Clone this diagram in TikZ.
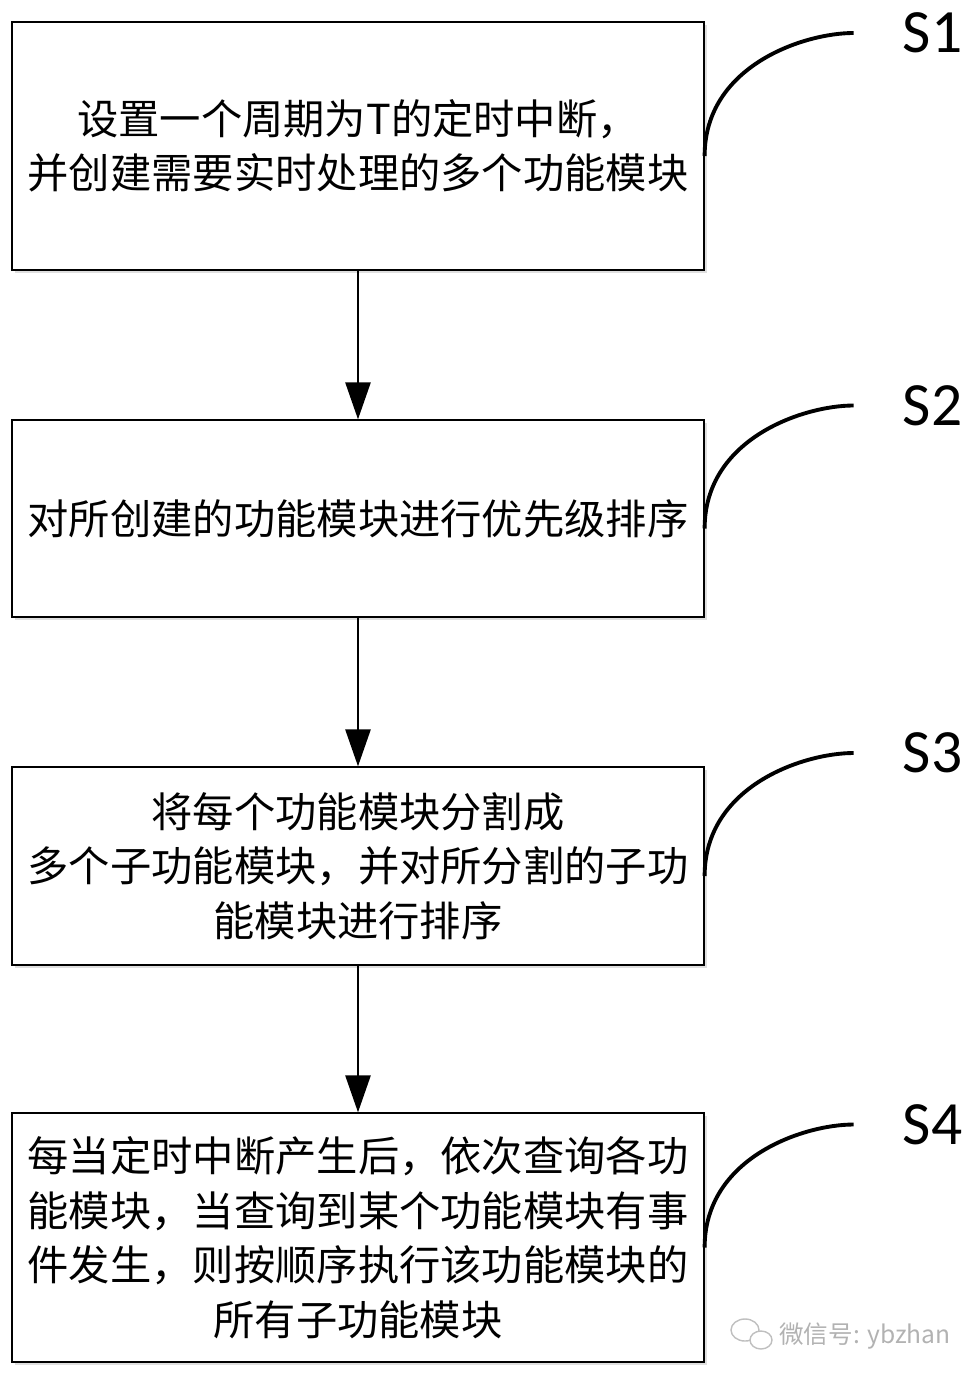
\documentclass[tikz,border=0pt]{standalone}
\usepackage{fontspec}
\setmainfont{Carlito}
\newfontfamily\cjk{Noto Sans CJK SC}
\usepackage{tikz}
\usetikzlibrary{arrows.meta,positioning,shadows}

\begin{document}
\begin{tikzpicture}[
  box/.style={draw,line width=0.7pt,fill=white,minimum width=13.84cm,
              align=center,inner sep=0pt,
              font=\cjk\fontsize{23.5pt}{31pt}\selectfont,
              drop shadow={shadow xshift=0.05cm,shadow yshift=-0.06cm,
                           fill=gray!25,opacity=1}},
  tag/.style={font=\fontsize{35pt}{35pt}\selectfont,inner sep=0pt,anchor=west},
  arrow/.style={-{Triangle[length=0.74cm,width=0.5cm]},line width=1.5pt},
  lead/.style={line width=2.2pt},
  ]

  \useasboundingbox (0,0) rectangle (19.54,-27.6);

  %─── Step 1 ────────────────────────────────────────────────────────────────
  \node[box,minimum height=4.96cm]
    (set) at (7.16,-2.92)
    {设置一个周期为T的定时中断，\\
     并创建需要实时处理的多个功能模块};

  %─── Step 2 ────────────────────────────────────────────────────────────────
  \node[box,minimum height=3.94cm]
    (sort) at (7.16,-10.37)
    {对所创建的功能模块进行优先级排序};

  %─── Step 3 ────────────────────────────────────────────────────────────────
  \node[box,minimum height=3.96cm]
    (split) at (7.16,-17.32)
    {将每个功能模块分割成\\
     多个子功能模块，并对所分割的子功\\
     能模块进行排序};

  %─── Step 4 ────────────────────────────────────────────────────────────────
  \node[box,minimum height=4.98cm]
    (exec) at (7.16,-24.75)
    {每当定时中断产生后，依次查询各功\\
     能模块，当查询到某个功能模块有事\\
     件发生，则按顺序执行该功能模块的\\
     所有子功能模块};

  %─── Flow arrows ───────────────────────────────────────────────────────────
  \draw[arrow] (set.south) -- (sort.north);
  \draw[arrow] (sort.south) -- (split.north);
  \draw[arrow] (split.south) -- (exec.north);

  %─── Step tags S1--S4 ──────────────────────────────────────────────────────
  \coordinate (e1) at ([xshift=2.98cm,yshift=2.26cm]set.east);
  \coordinate (e2) at ([xshift=2.98cm,yshift=2.26cm]sort.east);
  \coordinate (e3) at ([xshift=2.98cm,yshift=2.26cm]split.east);
  \coordinate (e4) at ([xshift=2.98cm,yshift=2.26cm]exec.east);

  \node[tag,right=0.98cm of e1,anchor=west] (t1) {S1};
  \node[tag,right=0.98cm of e2,anchor=west] (t2) {S2};
  \node[tag,right=0.98cm of e3,anchor=west] (t3) {S3};
  \node[tag,right=0.98cm of e4,anchor=west] (t4) {S4};

  \draw[lead] ([yshift=-0.2cm]set.east)
    .. controls +(0,1.8) and +(-1.0,0) .. (e1);
  \draw[lead] ([yshift=-0.2cm]sort.east)
    .. controls +(0,1.8) and +(-1.0,0) .. (e2);
  \draw[lead] ([yshift=-0.2cm]split.east)
    .. controls +(0,1.8) and +(-1.0,0) .. (e3);
  \draw[lead] ([yshift=-0.2cm]exec.east)
    .. controls +(0,1.8) and +(-1.0,0) .. (e4);

  %─── Watermark ─────────────────────────────────────────────────────────────
  \draw[gray!50,line width=0.8pt] (14.9,-26.6) ellipse (0.28cm and 0.22cm);
  \draw[gray!50,line width=0.8pt,fill=white] (15.22,-26.8) ellipse (0.22cm and 0.18cm);
  \node[font=\cjk\fontsize{14pt}{14pt}\selectfont,text=gray!60,anchor=west,inner sep=0pt]
    (mark) at (15.58,-26.72) {微信号: ybzhan};

\end{tikzpicture}
\end{document}
